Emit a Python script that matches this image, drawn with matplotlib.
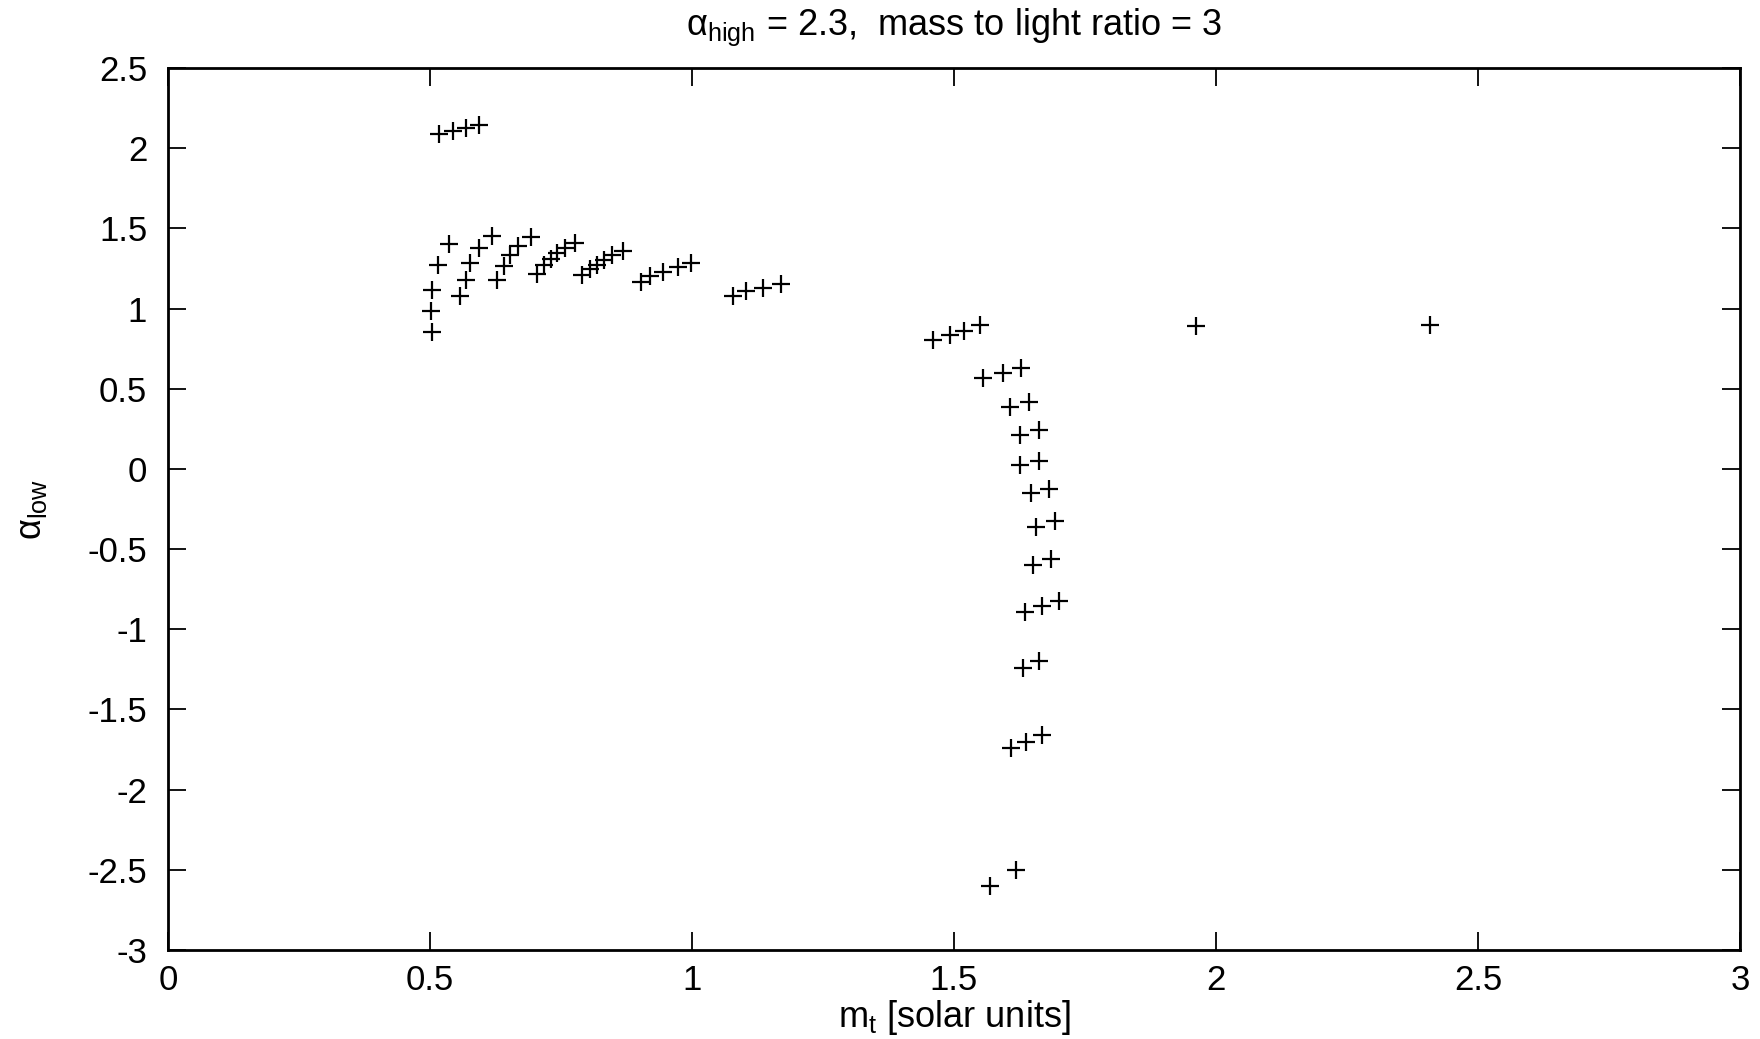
import matplotlib
matplotlib.use("Agg")
import matplotlib.pyplot as plt

plt.rcParams["font.family"] = ["Liberation Sans", "DejaVu Sans"]
plt.rcParams["mathtext.fontset"] = "custom"
plt.rcParams["mathtext.rm"] = "Liberation Sans"
plt.rcParams["mathtext.it"] = "Liberation Sans:italic"

# ── data ─────────────────────────────────────────────────────
m_top = [0.517, 0.543, 0.569, 0.593]
a_top = [2.089, 2.105, 2.127, 2.147]

m_c1 = [0.503, 0.501, 0.504, 0.516, 0.536]
a_c1 = [0.853, 0.982, 1.117, 1.273, 1.403]

m_c2 = [0.558, 0.568, 0.576, 0.593, 0.619]
a_c2 = [1.076, 1.180, 1.281, 1.375, 1.454]

m_c3 = [0.627, 0.642, 0.652, 0.668, 0.693]
a_c3 = [1.180, 1.263, 1.336, 1.392, 1.446]

m_c4 = [0.704, 0.718, 0.730, 0.743, 0.757, 0.776]
a_c4 = [1.217, 1.270, 1.311, 1.345, 1.376, 1.411]

m_c5 = [0.791, 0.806, 0.819, 0.832, 0.848, 0.869]
a_c5 = [1.209, 1.247, 1.273, 1.303, 1.334, 1.359]

m_c6 = [0.903, 0.920, 0.944, 0.973, 0.999]
a_c6 = [1.163, 1.204, 1.231, 1.262, 1.283]

m_c7 = [1.078, 1.104, 1.135, 1.170]
a_c7 = [1.076, 1.107, 1.127, 1.152]

m_c8 = [1.460, 1.492, 1.520, 1.549]
a_c8 = [0.801, 0.836, 0.863, 0.899]

# the near-vertical branch around m_t ~ 1.6
m_branch = [1.555, 1.593, 1.628, 1.606, 1.644, 1.625, 1.663, 1.625, 1.662,
            1.647, 1.682, 1.656, 1.692, 1.651, 1.686, 1.635, 1.667, 1.700,
            1.632, 1.663, 1.608, 1.637, 1.667, 1.568, 1.619]
a_branch = [0.566, 0.601, 0.628, 0.389, 0.420, 0.212, 0.243, 0.025, 0.050,
            -0.152, -0.127, -0.360, -0.325, -0.599, -0.564, -0.891, -0.855, -0.822,
            -1.244, -1.196, -1.743, -1.702, -1.660, -2.603, -2.503]

m_iso = [1.962, 2.408]
a_iso = [0.892, 0.900]

groups = [(m_top, a_top), (m_c1, a_c1), (m_c2, a_c2), (m_c3, a_c3),
          (m_c4, a_c4), (m_c5, a_c5), (m_c6, a_c6), (m_c7, a_c7),
          (m_c8, a_c8), (m_branch, a_branch), (m_iso, a_iso)]

xticks = [0, 0.5, 1, 1.5, 2, 2.5, 3]
xtick_labels = ["0", "0.5", "1", "1.5", "2", "2.5", "3"]
yticks = [-3, -2.5, -2, -1.5, -1, -0.5, 0, 0.5, 1, 1.5, 2, 2.5]
ytick_labels = ["-3", "-2.5", "-2", "-1.5", "-1", "-0.5", "0", "0.5", "1", "1.5", "2", "2.5"]

fig = plt.figure(figsize=(17.6, 10.39), dpi=100)
ax = fig.add_axes([168 / 1760, 1 - 950 / 1039, (1740 - 168) / 1760, (950 - 68) / 1039])

for m, a in groups:
    ax.plot(m, a, linestyle="none", marker="+", markersize=13,
            markeredgewidth=1.6, color="black")

ax.set_xlim(0, 3)
ax.set_ylim(-3, 2.5)
ax.set_xticks(xticks)
ax.set_xticklabels(xtick_labels)
ax.set_yticks(yticks)
ax.set_yticklabels(ytick_labels)
ax.tick_params(direction="in", length=13, width=1.3, labelsize=25,
               top=True, right=True, pad=15)
ax.tick_params(axis="x", pad=10)
for s in ax.spines.values():
    s.set_linewidth(2)

ax.set_title(r"α$_{\mathrm{high}}$ = 2.3,  mass to light ratio = 3", fontsize=26, pad=24)
ax.set_xlabel(r"m$_{\mathrm{t}}$ [solar units]", fontsize=26, labelpad=1)
ax.set_ylabel(r"α$_{\mathrm{low}}$", fontsize=26, labelpad=28)

fig.savefig("out.png", dpi=100)
